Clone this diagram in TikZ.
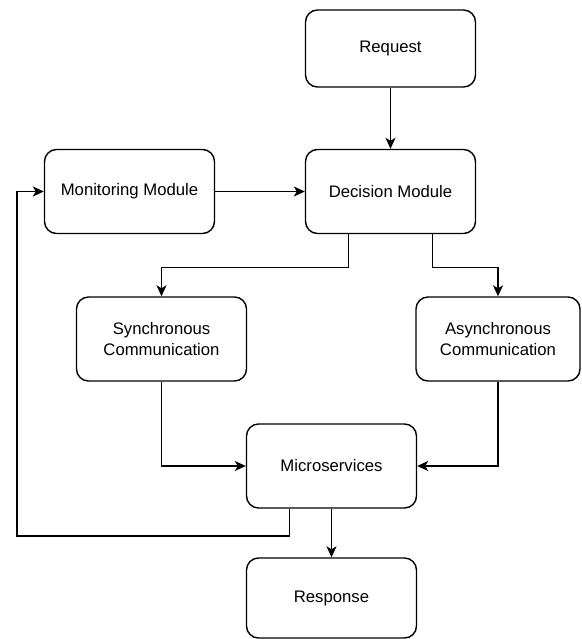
\documentclass[tikz,border=0pt]{standalone}
\usepackage{fontspec}
\setmainfont{Liberation Sans}
\usetikzlibrary{arrows.meta}
\newcommand\boxfont{\fontsize{16.7}{20.5}\selectfont}
\tikzset{%
  every box/.style={
    rectangle,
    rounded corners=12pt,
    draw,
    line width=1.4pt,
    minimum width=170pt,
    minimum height=84pt,
    align=center,
    font=\boxfont
  },
  box request/.style={minimum height=77pt},
  box async/.style={minimum width=164pt},
  box response/.style={minimum height=80pt},
  link/.style={->, line width=1.4pt}
 }

\begin{document}
\begin{tikzpicture}[x=1pt, y=-1pt, >={Stealth[length=11pt,width=10pt,inset=3pt]}]

\useasboundingbox [fill=white] (0,0) rectangle (581,639);

\foreach \n/\x/\y/\l in {request/390.5/48.5/Request,
    decision/390.5/191.5/Decision Module,
    monitor/129.5/191.5/Monitoring Module,
    sync/161.5/339/{Synchronous\\Communication},
    async/498/339/{Asynchronous\\Communication},
    micro/331.5/466/Microservices,
    response/331.5/598/Response}
  \node [every box/.try, box \n/.try] (\n) at (\x,\y) {\l};

\coordinate (loop) at (17,536);

\draw [link] (request) -- (decision);
\draw [link] (monitor) -- (decision);

% split out of the decision module
\draw [link] ([xshift=-42pt]decision.south) -- ++(0,33) -| (sync.north);
\draw [link] ([xshift=42pt]decision.south) -- ++(0,33) -| (async.north);

\draw [link] (sync.south) |- (micro.west);
\draw [link] (async.south) |- (micro.east);

% feedback into monitoring
\draw [link] ([xshift=-42pt]micro.south) |- (loop) |- (monitor.west);

\draw [link] (micro) -- (response);

\end{tikzpicture}
\end{document}
